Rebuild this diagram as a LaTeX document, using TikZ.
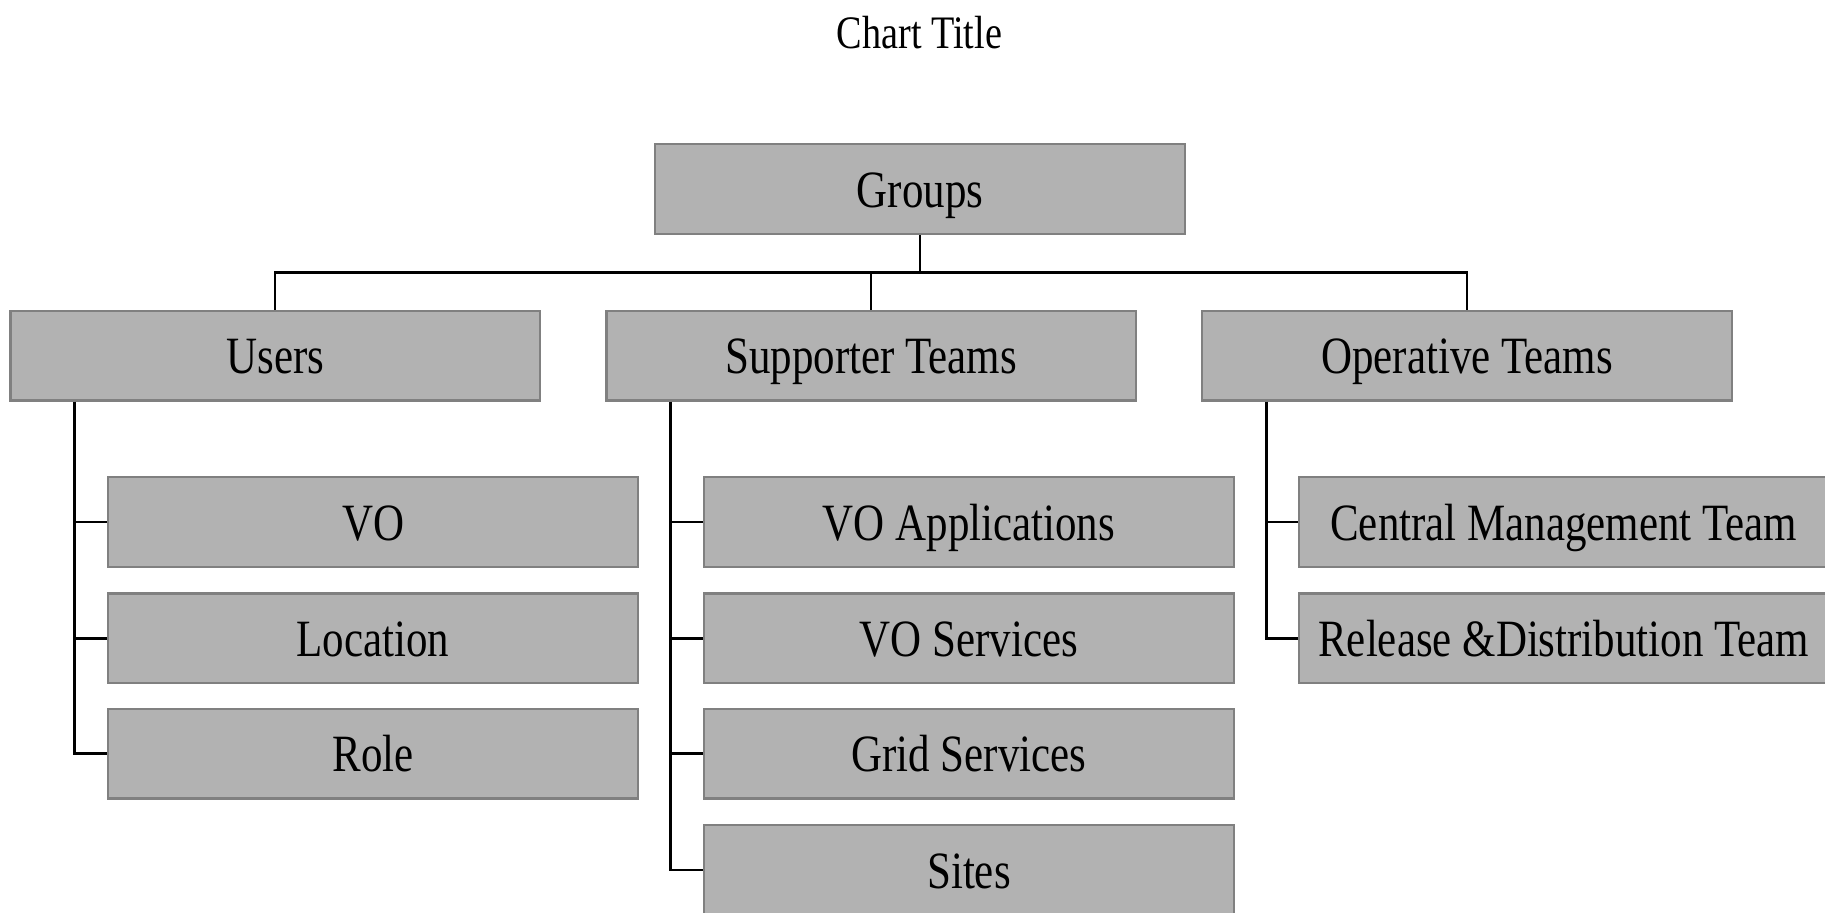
\documentclass[tikz,border=0pt]{standalone}
\usepackage{fontspec}
\setmainfont[FakeStretch=0.82]{Liberation Serif}
\begin{document}
\begin{tikzpicture}[x=1pt,y=-1pt,
  orgbox/.style={rectangle, draw=black!50, line width=2pt, fill=black!30,
    minimum width=455pt, minimum height=77pt, inner sep=0pt,
    text height=31pt, text depth=0pt,
    font=\fontsize{45}{50}\selectfont},
  link/.style={draw=black, line width=2pt}]
\useasboundingbox (0,0) rectangle (1568,784);
\clip (0,0) rectangle (1568,784);
\fill[white] (0,0) rectangle (1568,784);
\node[font=\fontsize{40}{44}\selectfont] (title) at (790,28) {Chart Title};
\node[orgbox] (groups) at (790.5,162.5) {Groups};
\node[orgbox] (users) at (236.5,305.5) {Users};
\node[orgbox] (supp) at (748.5,305.5) {Supporter Teams};
\node[orgbox] (oper) at (1260.5,305.5) {Operative Teams};
\node[orgbox] (vo) at (320.5,448.5) {VO};
\node[orgbox] (loc) at (320.5,548.5) {Location};
\node[orgbox] (role) at (320.5,647.5) {Role};
\node[orgbox] (voapp) at (832.5,448.5) {VO Applications};
\node[orgbox] (vosrv) at (832.5,548.5) {VO Services};
\node[orgbox] (grid) at (832.5,647.5) {Grid Services};
\node[orgbox] (sites) at (832.5,747.5) {Sites};
\node[orgbox] (cmt) at (1343.5,448.5) {Central Management Team};
\node[orgbox] (rdt) at (1343.5,548.5) {Release \&Distribution Team};
\coordinate (bus) at (0,234);
\coordinate (us) at ([xshift=56pt]users.south west);
\coordinate (ss) at ([xshift=56pt]supp.south west);
\coordinate (os) at ([xshift=56pt]oper.south west);
\draw[link] (groups.south) -- (groups.south |- bus);
\draw[link] (users.north) -- (users.north |- bus) -- (oper.north |- bus) -- (oper.north);
\draw[link] (supp.north) -- (supp.north |- bus);
\draw[link] (us) |- (role.west);
\draw[link] (us |- vo.west) -- (vo.west);
\draw[link] (us |- loc.west) -- (loc.west);
\draw[link] (ss) |- (sites.west);
\draw[link] (ss |- voapp.west) -- (voapp.west);
\draw[link] (ss |- vosrv.west) -- (vosrv.west);
\draw[link] (ss |- grid.west) -- (grid.west);
\draw[link] (os) |- (rdt.west);
\draw[link] (os |- cmt.west) -- (cmt.west);
\end{tikzpicture}
\end{document}
